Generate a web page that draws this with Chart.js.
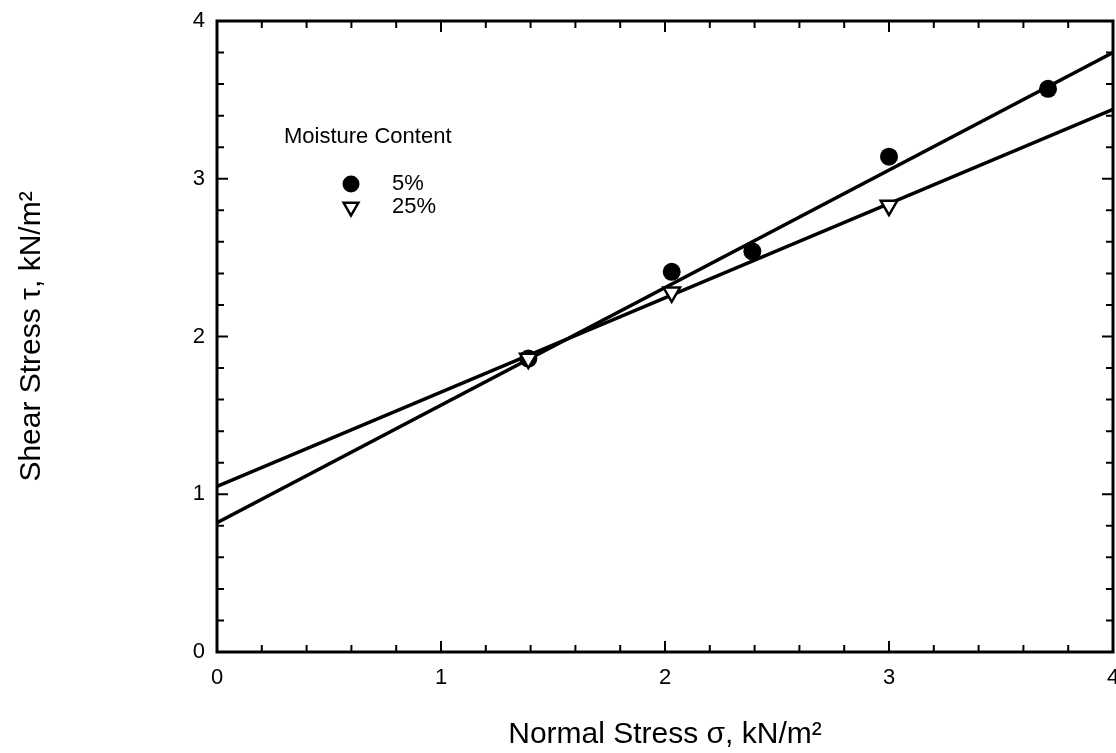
<!DOCTYPE html>
<html>
<head>
<meta charset="utf-8">
<title>Shear Stress vs Normal Stress</title>
<script src="https://cdn.jsdelivr.net/npm/chart.js@4/dist/chart.umd.min.js"></script>
<style>
  html, body { margin: 0; padding: 0; background: #fff; }
  canvas { display: block; }
</style>
</head>
<body>
<canvas id="shearChart" width="1116" height="753"></canvas>
<script>
// Direct shear results at two moisture contents
const sigma5 = [1.39, 2.03, 2.39, 3.00, 3.71];
const tau5 = [1.86, 2.41, 2.54, 3.14, 3.57];
const sigma25 = [1.39, 2.03, 3.00];
const tau25 = [1.86, 2.28, 2.83];

// Fitted failure envelopes, evaluated at the axis ends
const fitSigma = [0, 4];
const fit5 = [0.82, 3.80];
const fit25 = [1.05, 3.44];

const xTicks = [0, 1, 2, 3, 4];
const yTicks = [0, 1, 2, 3, 4];

const FONT = '"Liberation Sans", Arial, Helvetica, sans-serif';

function toPoints(xs, ys) {
    return xs.map((v, i) => ({ x: v, y: ys[i] }));
}

// Frame, inward ticks and the little legend box
const frameAndLegend = {
    id: 'frameAndLegend',
    afterDraw(chart) {
        const { ctx, chartArea: a, scales: { x, y } } = chart;
        ctx.save();
        ctx.strokeStyle = '#000';
        ctx.lineWidth = 3;
        ctx.strokeRect(a.left, a.top, a.right - a.left, a.bottom - a.top);

        ctx.lineWidth = 2;
        ctx.beginPath();
        for (let i = 1; i < 20; i++) {
            const v = i / 5;
            const len = i % 5 === 0 ? 11 : 7;
            const px = x.getPixelForValue(v);
            const py = y.getPixelForValue(v);
            ctx.moveTo(px, a.bottom); ctx.lineTo(px, a.bottom - len);
            ctx.moveTo(px, a.top); ctx.lineTo(px, a.top + len);
            ctx.moveTo(a.left, py); ctx.lineTo(a.left + len, py);
            ctx.moveTo(a.right, py); ctx.lineTo(a.right - len, py);
        }
        ctx.stroke();

        // legend
        ctx.fillStyle = '#000';
        ctx.font = '22px ' + FONT;
        ctx.textBaseline = 'middle';
        ctx.textAlign = 'left';
        ctx.fillText('Moisture Content', 284, 137);
        ctx.fillText('5%', 392, 184);
        ctx.fillText('25%', 392, 207);

        ctx.beginPath();
        ctx.arc(351, 184, 8.5, 0, Math.PI * 2);
        ctx.fill();

        const r = 8.5, cx = 351, cy = 207;
        ctx.beginPath();
        for (let k = 0; k < 3; k++) {
            const ang = Math.PI + k * 2 * Math.PI / 3;
            const tx = cx + Math.sin(ang) * r;
            const ty = cy - Math.cos(ang) * r;
            if (k === 0) ctx.moveTo(tx, ty); else ctx.lineTo(tx, ty);
        }
        ctx.closePath();
        ctx.fillStyle = '#fff';
        ctx.fill();
        ctx.lineWidth = 2.5;
        ctx.stroke();
        ctx.restore();
    }
};

const config = {
    type: 'scatter',
    data: {
        datasets: [
            {
                label: '25%',
                data: toPoints(sigma25, tau25),
                pointStyle: 'triangle',
                rotation: 180,
                pointRadius: 9.5,
                backgroundColor: '#fff',
                borderColor: '#000',
                borderWidth: 2.5,
                order: 0
            },
            {
                label: '5%',
                data: toPoints(sigma5, tau5),
                pointStyle: 'circle',
                pointRadius: 9,
                backgroundColor: '#000',
                borderColor: '#000',
                borderWidth: 0,
                order: 1
            },
            {
                label: 'fit 5%',
                data: toPoints(fitSigma, fit5),
                showLine: true,
                pointRadius: 0,
                borderColor: '#000',
                borderWidth: 3.5,
                order: 2
            },
            {
                label: 'fit 25%',
                data: toPoints(fitSigma, fit25),
                showLine: true,
                pointRadius: 0,
                borderColor: '#000',
                borderWidth: 3.5,
                order: 3
            }
        ]
    },
    options: {
        responsive: false,
        animation: false,
        events: [],
        layout: { autoPadding: false, padding: { left: 0, right: 3, top: 21, bottom: 0 } },
        plugins: {
            legend: { display: false },
            tooltip: { enabled: false }
        },
        scales: {
            x: {
                type: 'linear',
                min: 0,
                max: 4,
                afterBuildTicks: s => { s.ticks = xTicks.map(v => ({ value: v })); },
                afterFit: s => { s.height = 101; s.paddingLeft = 0; s.paddingRight = 0; },
                grid: { display: false, drawTicks: false },
                border: { display: false },
                ticks: {
                    color: '#000',
                    font: { family: FONT, size: 22 },
                    padding: 13,
                    maxRotation: 0
                },
                title: {
                    display: true,
                    text: 'Normal Stress σ, kN/m²',
                    color: '#000',
                    font: { family: FONT, size: 30 },
                    padding: { top: 0, bottom: 0 }
                }
            },
            y: {
                type: 'linear',
                min: 0,
                max: 4,
                afterBuildTicks: s => { s.ticks = yTicks.map(v => ({ value: v })); },
                afterFit: s => { s.width = 217; s.paddingTop = 0; s.paddingBottom = 0; },
                grid: { display: false, drawTicks: false },
                border: { display: false },
                ticks: {
                    color: '#000',
                    font: { family: FONT, size: 22 },
                    padding: 12
                },
                title: {
                    display: true,
                    text: 'Shear Stress τ, kN/m²',
                    color: '#000',
                    font: { family: FONT, size: 30 },
                    padding: { top: 14, bottom: 0 }
                }
            }
        }
    },
    plugins: [frameAndLegend]
};

new Chart(document.getElementById('shearChart').getContext('2d'), config);
</script>
</body>
</html>
